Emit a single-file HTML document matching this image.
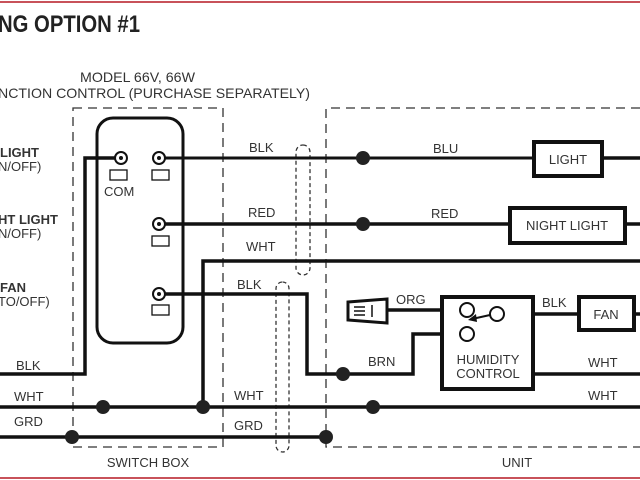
<!DOCTYPE html>
<html><head><meta charset="utf-8"><style>
html,body{margin:0;padding:0;background:#fff;}
svg{display:block;}
text{font-family:"Liberation Sans",sans-serif;fill:#333;font-size:13px;}
</style></head><body>
<svg width="640" height="480" viewBox="0 0 640 480" xmlns="http://www.w3.org/2000/svg">
<line x1="0" y1="2" x2="640" y2="2" stroke="#c8525a" stroke-width="2"/>
<line x1="0" y1="478" x2="640" y2="478" stroke="#c8525a" stroke-width="2"/>
<text x="-2" y="32" style="font-size:24px;font-weight:bold;fill:#222" textLength="142" lengthAdjust="spacingAndGlyphs">NG OPTION #1</text>
<text x="80" y="82" style="font-size:14px" textLength="115" lengthAdjust="spacingAndGlyphs">MODEL 66V, 66W</text>
<text x="-2" y="98" style="font-size:14px" textLength="312" lengthAdjust="spacingAndGlyphs">NCTION CONTROL (PURCHASE SEPARATELY)</text>
<g fill="none" stroke="#333" stroke-width="1.3" stroke-dasharray="9,6">
<rect x="73" y="108" width="150" height="339"/>
<path d="M640 108 H326 V447 H640"/>
<rect x="296" y="145" width="14" height="130" rx="7" stroke-dasharray="4,3"/>
<rect x="276" y="282" width="13" height="170" rx="6.5" stroke-dasharray="4,3"/>
</g>
<rect x="97" y="118" width="86" height="225" rx="16" fill="none" stroke="#111" stroke-width="3"/>
<g fill="none" stroke="#111" stroke-width="3.5">
<path d="M121 158 H85 V374 H0"/>
<path d="M159 224 H510"/>
<path d="M203 407 V261 H640"/>
<path d="M159 294 H307 V374 H413 V334 H467"/>
<path d="M0 407 H640"/>
<path d="M0 437 H326"/>
<path d="M533 374 H640"/>
<path d="M533 314 H579"/>
<path d="M385 310 H467"/>
<path d="M602 158 H640"/>
<path d="M625 224 H640"/>
<path d="M634 314 H640"/>
</g>
<path d="M159 158 H534" stroke="#111" stroke-width="3"/>
<g fill="#fff" stroke="#111" stroke-width="2">
<circle cx="121" cy="158" r="6"/><circle cx="159" cy="158" r="6"/>
<circle cx="159" cy="224" r="6"/><circle cx="159" cy="294" r="6"/>
</g>
<g fill="#111"><circle cx="121" cy="158" r="2"/><circle cx="159" cy="158" r="2"/><circle cx="159" cy="224" r="2"/><circle cx="159" cy="294" r="2"/></g>
<g fill="none" stroke="#111" stroke-width="1.3">
<rect x="110" y="170" width="17" height="10"/><rect x="152" y="170" width="17" height="10"/>
<rect x="152" y="236" width="17" height="10"/><rect x="152" y="305" width="17" height="10"/>
</g>
<g fill="#222">
<circle cx="363" cy="158" r="7"/><circle cx="363" cy="224" r="7"/>
<circle cx="343" cy="374" r="7"/><circle cx="103" cy="407" r="7"/>
<circle cx="203" cy="407" r="7"/><circle cx="373" cy="407" r="7"/>
<circle cx="72" cy="437" r="7"/><circle cx="326" cy="437" r="7"/>
</g>
<g fill="#fff" stroke="#111" stroke-width="4">
<rect x="534" y="142" width="68" height="34"/>
<rect x="510" y="208" width="115" height="35"/>
<rect x="442" y="297" width="91" height="92"/>
<rect x="579" y="297" width="55" height="33"/>
</g>
<g fill="#fff" stroke="#111" stroke-width="2">
<circle cx="467" cy="310" r="7"/><circle cx="497" cy="314" r="7"/><circle cx="467" cy="334" r="7"/>
</g>
<path d="M490 315 L472 319" stroke="#111" stroke-width="2"/>
<path d="M468 320 L476 314 L477 322 Z" fill="#111"/>
<path d="M348 302 L387 299 L387 323 L348 320 Z" fill="#fff" stroke="#111" stroke-width="3"/>
<path d="M354 307 H365 M354 311 H365 M354 315 H365 M372 305 V317" stroke="#111" stroke-width="1.5"/>
<text x="0" y="157" style="font-weight:bold;font-size:13px">LIGHT</text>
<text x="-2" y="171">N/OFF)</text>
<text x="-2" y="224" style="font-weight:bold">HT LIGHT</text>
<text x="-2" y="238">N/OFF)</text>
<text x="0" y="292" style="font-weight:bold">FAN</text>
<text x="-2" y="306">TO/OFF)</text>
<text x="104" y="196">COM</text>
<text x="16" y="370">BLK</text>
<text x="14" y="401">WHT</text>
<text x="14" y="426">GRD</text>
<text x="249" y="152">BLK</text>
<text x="248" y="217">RED</text>
<text x="246" y="251">WHT</text>
<text x="237" y="289">BLK</text>
<text x="234" y="400">WHT</text>
<text x="234" y="430">GRD</text>
<text x="433" y="153">BLU</text>
<text x="431" y="218">RED</text>
<text x="396" y="304">ORG</text>
<text x="368" y="366">BRN</text>
<text x="542" y="307">BLK</text>
<text x="588" y="367">WHT</text>
<text x="588" y="400">WHT</text>
<text x="568" y="164" text-anchor="middle">LIGHT</text>
<text x="567" y="230" text-anchor="middle">NIGHT LIGHT</text>
<text x="606" y="319" text-anchor="middle">FAN</text>
<text x="488" y="364" text-anchor="middle">HUMIDITY</text>
<text x="488" y="378" text-anchor="middle">CONTROL</text>
<text x="148" y="467" text-anchor="middle">SWITCH BOX</text>
<text x="517" y="467" text-anchor="middle">UNIT</text>
</svg>
</body></html>
